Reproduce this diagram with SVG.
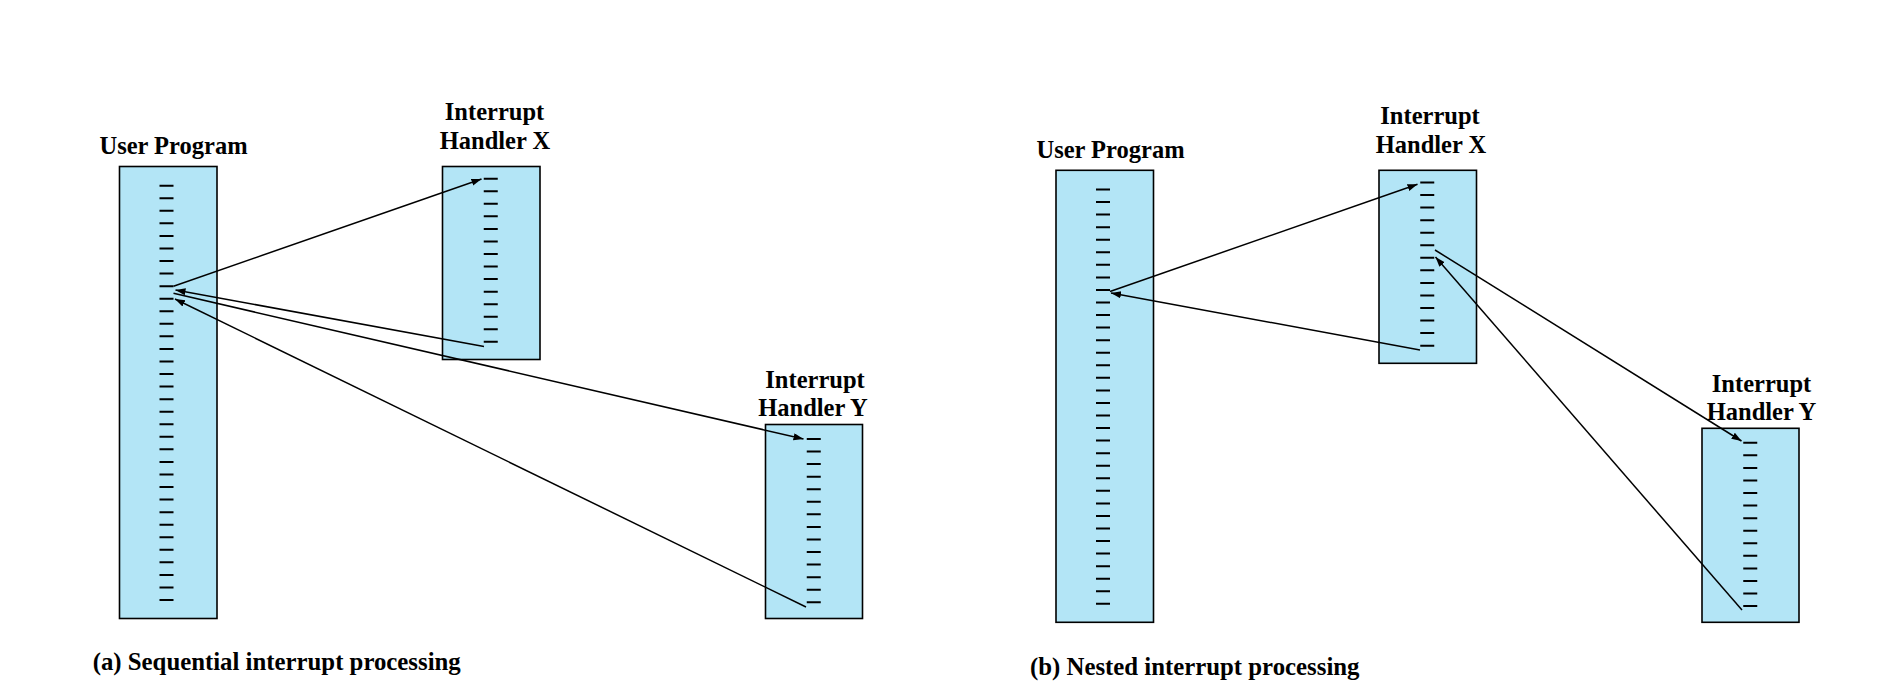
<svg xmlns="http://www.w3.org/2000/svg" width="1890" height="696" viewBox="0 0 1890 696">
<defs>
<style>
.box{fill:#b3e5f6;stroke:#000;stroke-width:1.6}
.tk{stroke:#000;stroke-width:14;fill:none}
.t{font-family:"Liberation Serif","Times New Roman",serif;font-weight:bold;font-size:24.5px;fill:#000;text-anchor:middle}
.cap{font-family:"Liberation Serif","Times New Roman",serif;font-weight:bold;font-size:24.8px;fill:#000}
.ar{stroke:#000;stroke-width:1.5;fill:none;marker-end:url(#ah)}
</style>
<marker id="ah" markerUnits="userSpaceOnUse" markerWidth="12" markerHeight="8" refX="10" refY="3.5" orient="auto">
<path d="M0,0 L10,3.5 L0,7 z" fill="#000"/>
</marker>
</defs>
<rect width="1890" height="696" fill="#fff"/>

<g id="user-program-a">
<rect class="box" x="119.5" y="166.5" width="97.5" height="452"/>
<line class="tk" x1="166.5" y1="184.7" x2="166.5" y2="601" stroke-dasharray="2 10.555"/>
<text class="t" x="173.5" y="154">User Program</text>
</g>
<g id="handler-x-a">
<rect class="box" x="442.5" y="166.5" width="97.5" height="193"/>
<line class="tk" x1="490.75" y1="177.7" x2="490.75" y2="342.85" stroke-dasharray="2 10.55"/>
<text class="t" x="494.5" y="120">Interrupt</text>
<text class="t" x="495" y="149">Handler X</text>
</g>
<g id="handler-y-a">
<rect class="box" x="765.5" y="424.5" width="97" height="194"/>
<line class="tk" x1="813.75" y1="438" x2="813.75" y2="603.3" stroke-dasharray="2 10.56"/>
<text class="t" x="815" y="388">Interrupt</text>
<text class="t" x="813" y="416">Handler Y</text>
</g>
<text id="caption-a" class="cap" x="92.7" y="670">(a) Sequential interrupt processing</text>

<g id="user-program-b">
<rect class="box" x="1056" y="170.3" width="97.5" height="452"/>
<line class="tk" x1="1103" y1="188.5" x2="1103" y2="604.8" stroke-dasharray="2 10.555"/>
<text class="t" x="1110.5" y="158">User Program</text>
</g>
<g id="handler-x-b">
<rect class="box" x="1379" y="170.3" width="97.5" height="193"/>
<line class="tk" x1="1427.25" y1="181.5" x2="1427.25" y2="346.65" stroke-dasharray="2 10.55"/>
<text class="t" x="1430" y="124">Interrupt</text>
<text class="t" x="1431" y="153">Handler X</text>
</g>
<g id="handler-y-b">
<rect class="box" x="1702" y="428.3" width="97" height="194"/>
<line class="tk" x1="1750.25" y1="441.8" x2="1750.25" y2="607.1" stroke-dasharray="2 10.56"/>
<text class="t" x="1761.5" y="391.5">Interrupt</text>
<text class="t" x="1761.5" y="420">Handler Y</text>
</g>
<text id="caption-b" class="cap" x="1030" y="675">(b) Nested interrupt processing</text>

<g id="connectors">
<path class="ar" d="M173.5,286.2 L481.5,179"/>
<path class="ar" d="M484,346.5 L175.5,290"/>
<path class="ar" d="M173.5,293.3 L803.5,439"/>
<path class="ar" d="M806,607 L175,299"/>
<path class="ar" d="M1110,291.5 L1417.5,184.3"/>
<path class="ar" d="M1420,350 L1111,293"/>
<path class="ar" d="M1435,250 L1741.5,441"/>
<path class="ar" d="M1742,610 L1435.5,257"/>
</g>
</svg>
